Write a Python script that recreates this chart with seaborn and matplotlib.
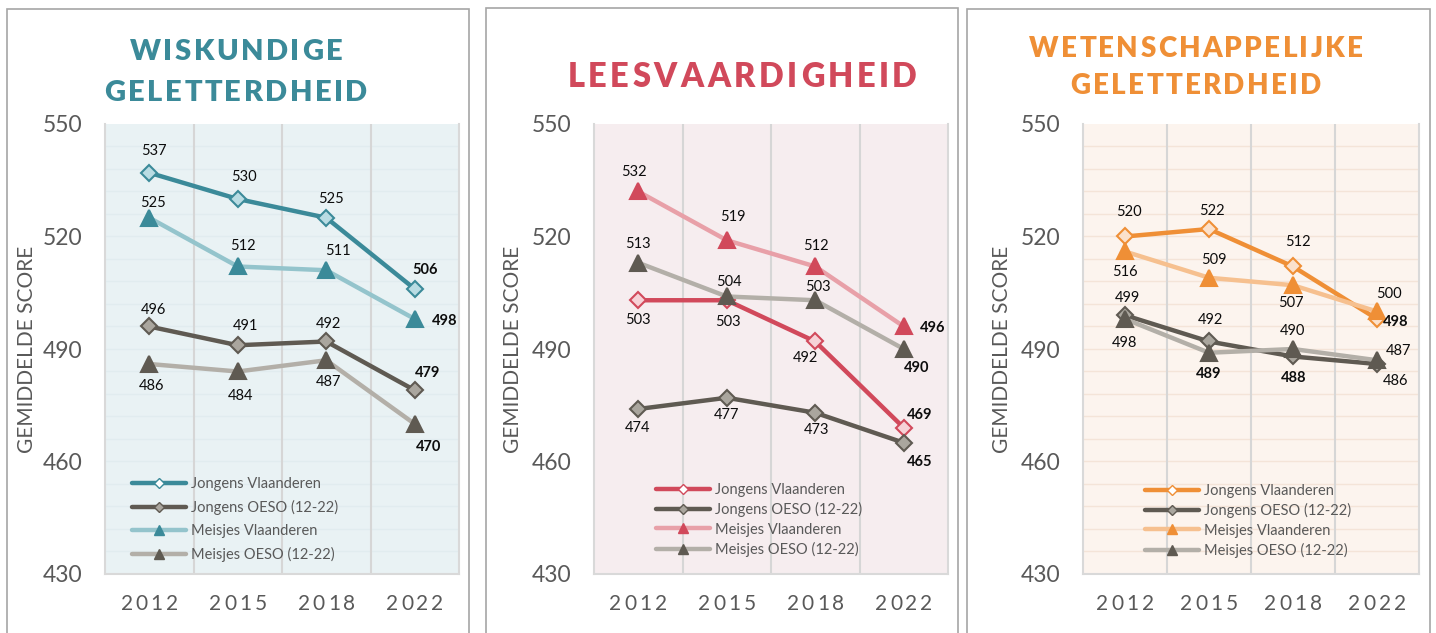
import matplotlib
matplotlib.use("Agg")
import matplotlib.pyplot as plt
from matplotlib.lines import Line2D
from matplotlib.patches import Rectangle
import seaborn as sns
import pandas as pd

sns.set_style("white")
plt.rcParams['font.family'] = ['Lato', 'DejaVu Sans']

# ---------------- data ----------------
years = ["2012", "2015", "2018", "2022"]
series_names = ["Jongens Vlaanderen", "Jongens OESO (12-22)",
                "Meisjes Vlaanderen", "Meisjes OESO (12-22)"]

titles = [["WISKUNDIGE", "GELETTERDHEID"],
          ["LEESVAARDIGHEID"],
          ["WETENSCHAPPELIJKE", "GELETTERDHEID"]]

wisk_jongens_vl = [537, 530, 525, 506]
wisk_jongens_oeso = [496, 491, 492, 479]
wisk_meisjes_vl = [525, 512, 511, 498]
wisk_meisjes_oeso = [486, 484, 487, 470]

lees_jongens_vl = [503, 503, 492, 469]
lees_jongens_oeso = [474, 477, 473, 465]
lees_meisjes_vl = [532, 519, 512, 496]
lees_meisjes_oeso = [513, 504, 503, 490]

wet_jongens_vl = [520, 522, 512, 498]
wet_jongens_oeso = [499, 492, 488, 486]
wet_meisjes_vl = [516, 509, 507, 500]
wet_meisjes_oeso = [498, 489, 490, 487]

y_ticks = [430, 460, 490, 520, 550]
y_label = "GEMIDDELDE SCORE"

# which value labels are printed in bold
wisk_bold = [[0, 0, 0, 1], [0, 0, 0, 1], [0, 0, 0, 1], [0, 0, 0, 1]]
lees_bold = [[0, 0, 0, 1], [0, 0, 0, 1], [0, 0, 0, 1], [0, 0, 0, 1]]
wet_bold = [[0, 0, 0, 1], [0, 0, 1, 0], [0, 0, 0, 0], [0, 1, 0, 0]]

# ---------------- styling ----------------
W, H = 1436, 633
fig = plt.figure(figsize=(W / 100, H / 100), dpi=100)
fig.patch.set_facecolor("white")
renderer = fig.canvas.get_renderer()

DARK = "#5f5a52"
GREY = "#b3afa8"
GREY_FACE = "#aaa69e"
TEXT_GREY = "#595959"

panels = [
    dict(values=[wisk_jongens_vl, wisk_jongens_oeso, wisk_meisjes_vl, wisk_meisjes_oeso],
         bold=wisk_bold, accent="#3b8a99", light="#94c4cc", face="#b9dce3",
         bg="#e9f2f4", hgrid="#e1ecef",
         frame=(7, 9, 469), axbox=(105, 459, 124, 574), ylab_x=27,
         title_cx=236, title_base=[60, 101], title_size=21, title_track=2.5,
         legend_xy=(132, 474), legend_sp=0.62,
         offsets=[[(5, -22), (6, -22), (5, -19), (10, -19)],
                  [(4, -17), (8, -19), (2, -18), (13, -17)],
                  [(4, -15), (5, -21), (12, -19), (30, 2)],
                  [(2, 22), (3, 24), (2, 22), (14, 23)]]),
    dict(values=[lees_jongens_vl, lees_jongens_oeso, lees_meisjes_vl, lees_meisjes_oeso],
         bold=lees_bold, accent="#d1495b", light="#e8a0a8", face="#f6d2d7",
         bg="#f6edef", hgrid=None,
         frame=(486, 8, 958), axbox=(594, 948, 124, 574), ylab_x=513,
         title_cx=742, title_base=[87], title_size=23.5, title_track=3.5,
         legend_xy=(656, 480), legend_sp=0.36,
         offsets=[[(0, 20), (1, 22), (-10, 17), (16, -13)],
                  [(-1, 19), (0, 17), (1, 17), (16, 19)],
                  [(-4, -19), (6, -23), (1, -21), (29, 2)],
                  [(0, -19), (2, -15), (3, -13), (13, 19)]]),
    dict(values=[wet_jongens_vl, wet_jongens_oeso, wet_meisjes_vl, wet_meisjes_oeso],
         bold=wet_bold, accent="#ef8f36", light="#f6c08f", face="#fbe1cc",
         bg="#fcf4ee", hgrid="#f4e4d8",
         frame=(967, 9, 1430), axbox=(1083, 1419, 124, 574), ylab_x=1002,
         title_cx=1196, title_base=[57, 94], title_size=20, title_track=2.3,
         legend_xy=(1145, 481), legend_sp=0.36,
         offsets=[[(4, -24), (3, -18), (5, -25), (19, 3)],
                  [(2, -17), (1, -21), (1, 22), (19, 17)],
                  [(0, 21), (5, -18), (-2, 18), (12, -17)],
                  [(0, 24), (0, 21), (0, -18), (22, -9)]]),
]


def tracked_text(cx, baseline, text, tracking, **kw):
    """Draw text centred on cx (pixels) with extra spacing between letters."""
    widths = []
    for ch in text:
        t = fig.text(0, 0, ch, **kw)
        widths.append(t.get_window_extent(renderer).width)
        t.remove()
    total = sum(widths) + tracking * (len(text) - 1)
    x = cx - total / 2
    for ch, w in zip(text, widths):
        fig.text(x / W, 1 - baseline / H, ch, ha="left", va="baseline", **kw)
        x += w + tracking


for p, title_lines in zip(panels, titles):
    fx0, fy0, fx1 = p["frame"]
    fig.patches.append(Rectangle((fx0 / W, 1 - (H + 20) / H), (fx1 - fx0) / W, (H + 20 - fy0) / H,
                                 transform=fig.transFigure, fill=False,
                                 edgecolor="#a6a6a6", linewidth=1.2, zorder=0))

    l, r, t, b = p["axbox"]
    ax = fig.add_axes([l / W, 1 - b / H, (r - l) / W, (b - t) / H])
    ax.set_facecolor(p["bg"])

    colors_line = [p["accent"], DARK, p["light"], GREY]
    markers = ["D", "D", "^", "^"]
    faces = [p["face"], GREY_FACE, p["accent"], DARK]
    edges = [p["accent"], DARK, p["accent"], DARK]
    sizes = [8.0, 8.0, 12, 12]

    x_idx = list(range(len(years)))
    for vals, c, m, fc, ec, ms in zip(p["values"], colors_line, markers, faces, edges, sizes):
        df = pd.DataFrame({"jaar": x_idx, "score": vals})
        sns.lineplot(data=df, x="jaar", y="score", ax=ax, color=c, linewidth=3.2,
                     marker=m, markersize=ms, markerfacecolor=fc, markeredgecolor=ec,
                     markeredgewidth=1.5, legend=False, zorder=3)

    # value labels
    for vals, offs, bolds in zip(p["values"], p["offsets"], p["bold"]):
        for i, (v, (dx, dy), bd) in enumerate(zip(vals, offs, bolds)):
            ax.annotate(str(v), (i, v), xytext=(dx, -dy), textcoords="offset pixels",
                        ha="center", va="center", fontsize=10.5,
                        fontweight="bold" if bd else "normal", color="#0d0d0d", zorder=5)

    ax.set_xlim(-0.5, 3.5)
    ax.set_ylim(430, 550)
    ax.set_xticks([])
    ax.set_yticks(y_ticks)
    ax.tick_params(axis="y", length=0, pad=16, labelsize=16.5, labelcolor=TEXT_GREY)
    ax.set_xlabel("")
    ax.set_ylabel("")

    for xv in [0.5, 1.5, 2.5]:
        ax.axvline(xv, color="#d6d6d6", linewidth=1.5, zorder=1)
    if p["hgrid"]:
        for yv in range(436, 550, 6):
            ax.axhline(yv, color=p["hgrid"], linewidth=1.0, zorder=0.5)
    for side in ["left", "right", "bottom"]:
        ax.spines[side].set_color("#d9d9d9")
        ax.spines[side].set_linewidth(1.5)
    ax.spines["top"].set_visible(False)

    # legend
    handles = []
    for name, c, m, fc, ec in zip(series_names, colors_line, markers, faces, edges):
        handles.append(Line2D([], [], color=c, linewidth=3.2, marker=m,
                              markersize=5 if m == "D" else 7,
                              markerfacecolor=fc if m == "^" else ("white" if c == p["accent"] else GREY_FACE),
                              markeredgecolor=ec, markeredgewidth=1.0))
    lx, ly = p["legend_xy"]
    leg = ax.legend(handles, series_names, loc="upper left",
                    bbox_to_anchor=(lx / W, 1 - (ly + 3) / H), bbox_transform=fig.transFigure,
                    frameon=False, fontsize=10.5, handlelength=3.7, handletextpad=0.35,
                    labelspacing=p["legend_sp"], borderpad=0, borderaxespad=0)
    for txt in leg.get_texts():
        txt.set_color(TEXT_GREY)

    # x tick labels with letter spacing
    for i, yr in enumerate(years):
        cx = l + (i + 0.5) * (r - l) / 4
        tracked_text(cx, 610, yr, 3, fontsize=15, color=TEXT_GREY)

    # y axis title
    fig.text(p["ylab_x"] / W, 1 - ((t + b) / 2) / H, y_label, rotation=90,
             ha="center", va="center", fontsize=15, color=TEXT_GREY)

    # panel title
    for line, base in zip(title_lines, p["title_base"]):
        tracked_text(p["title_cx"], base, line, p["title_track"], fontsize=p["title_size"],
                     fontweight="heavy", color=p["accent"])

fig.savefig("out.png", dpi=100)
